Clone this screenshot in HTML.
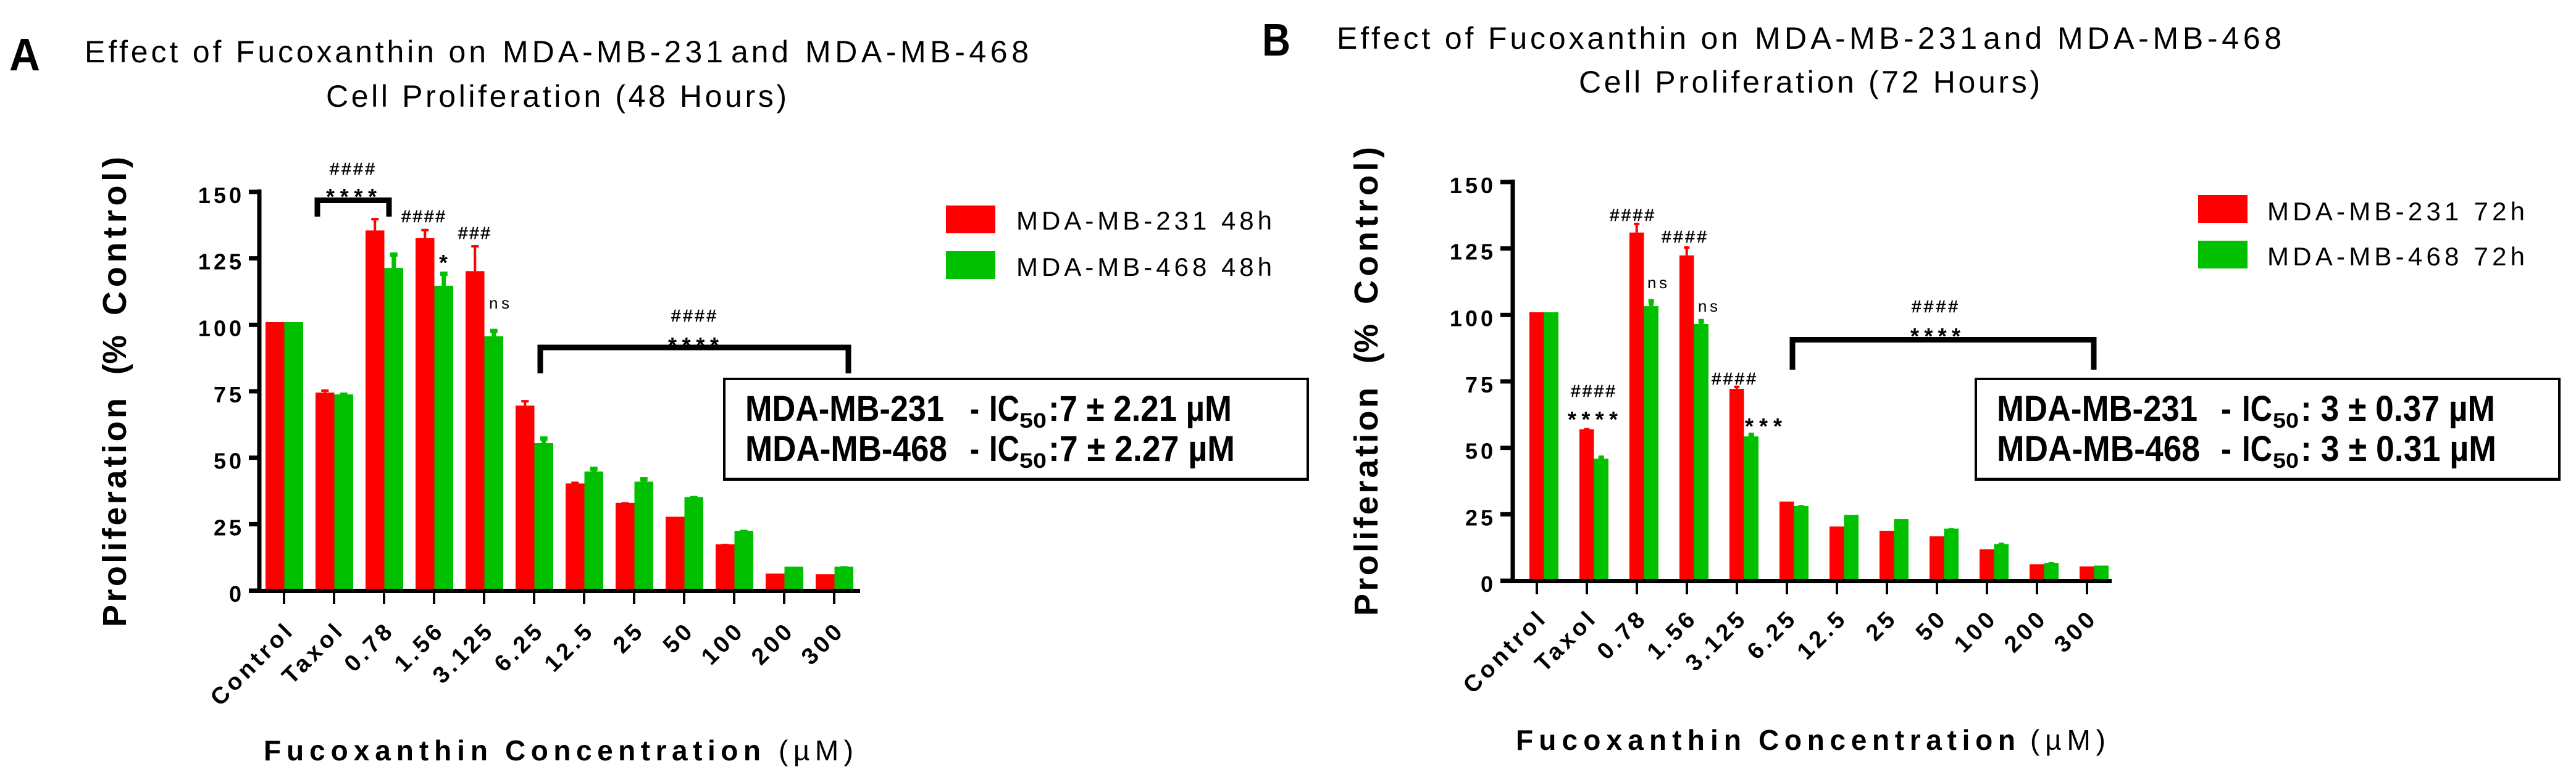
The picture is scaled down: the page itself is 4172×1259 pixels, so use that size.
<!DOCTYPE html>
<html>
<head>
<meta charset="utf-8">
<style>
html,body{margin:0;padding:0;background:#fff;width:4172px;height:1259px;overflow:hidden}
svg{display:block}
text{font-family:"Liberation Sans",sans-serif;fill:#000}
.b{font-weight:bold}
.ttl{font-size:50px}
.ylab{font-size:54px;font-weight:bold}
.leg{font-size:42px}
.box{font-size:58px;font-weight:bold}
.sub{font-size:34px;font-weight:bold}
.hash{font-size:28px;stroke:#000;stroke-width:.6px}
.star{font-size:36px;font-weight:bold}
.ns{font-size:26px}
</style>
</head>
<body>
<svg id="figure" xmlns="http://www.w3.org/2000/svg" width="4172" height="1259" viewBox="0 0 4172 1259">
<rect width="4172" height="1259" fill="#fff"/>

<g id="panel-a">
  <text class="b" x="15" y="114" font-size="74" textLength="50" lengthAdjust="spacingAndGlyphs">A</text>
  <text class="ttl" x="137" y="101" textLength="650">Effect of Fucoxanthin on</text>
  <text class="ttl" x="814" y="101" textLength="357">MDA-MB-231</text>
  <text class="ttl" x="1184" y="101" textLength="93">and</text>
  <text class="ttl" x="1304" y="101" textLength="362">MDA-MB-468</text>
  <text class="ttl" x="528" y="173" textLength="746">Cell Proliferation (48 Hours)</text>
  <text class="ylab" transform="translate(204,1016) rotate(-90)" textLength="371">Proliferation</text>
  <text class="ylab" transform="translate(204,607) rotate(-90)" textLength="64" lengthAdjust="spacingAndGlyphs">(%</text>
  <text class="ylab" transform="translate(204,511) rotate(-90)" textLength="257">Control)</text>
  <text class="b" x="427" y="1232" font-size="46" textLength="363">Fucoxanthin</text>
  <text class="b" x="818" y="1232" font-size="46" textLength="414">Concentration</text>
  <text x="1261" y="1232" font-size="46" textLength="121">(µM)</text>

  <rect x="1532" y="333" width="80" height="45" fill="#ff0000"/>
  <text class="leg" x="1646" y="372" textLength="414">MDA-MB-231 48h</text>
  <rect x="1532" y="407" width="80" height="45" fill="#00c000"/>
  <text class="leg" x="1646" y="447" textLength="414">MDA-MB-468 48h</text>

  <path d="M514 351V324.500H630V351" fill="none" stroke="#000" stroke-width="9"/>
  <text class="hash" x="534" y="283" textLength="73">####</text>
  <text class="star" x="528" y="331" textLength="82">****</text>
  <text class="hash" x="650" y="360" textLength="71">####</text>
  <text class="star" x="711" y="438">*</text>
  <text class="hash" x="742" y="387" textLength="52">###</text>
  <text class="ns" x="792" y="500" textLength="33">ns</text>
  <path d="M875 605V563H1374V605" fill="none" stroke="#000" stroke-width="9"/>
  <text class="hash" x="1087" y="521" textLength="73">####</text>
  <text class="star" x="1082" y="572" textLength="82">****</text>

  <g>
    <rect x="1173" y="614" width="945" height="163" fill="#fff" stroke="#000" stroke-width="4"/>
    <rect x="1171" y="774" width="949" height="5" fill="#000"/>
    <text class="box" x="1207" y="682" textLength="322" lengthAdjust="spacingAndGlyphs">MDA-MB-231</text>
    <text class="box" x="1571" y="682" textLength="15" lengthAdjust="spacingAndGlyphs">-</text>
    <text class="box" x="1602" y="682" textLength="49" lengthAdjust="spacingAndGlyphs">IC</text>
    <text class="sub" x="1651" y="693" textLength="44" lengthAdjust="spacingAndGlyphs">50</text>
    <text class="box" x="1698" y="682" textLength="297" lengthAdjust="spacingAndGlyphs">:7 ± 2.21 µM</text>
    <text class="box" x="1207" y="747" textLength="327" lengthAdjust="spacingAndGlyphs">MDA-MB-468</text>
    <text class="box" x="1571" y="747" textLength="15" lengthAdjust="spacingAndGlyphs">-</text>
    <text class="box" x="1602" y="747" textLength="49" lengthAdjust="spacingAndGlyphs">IC</text>
    <text class="sub" x="1651" y="758" textLength="44" lengthAdjust="spacingAndGlyphs">50</text>
    <text class="box" x="1698" y="747" textLength="302" lengthAdjust="spacingAndGlyphs">:7 ± 2.27 µM</text>
  </g>
</g>

<g id="panel-b">
  <text class="b" x="2044" y="90" font-size="74" textLength="46" lengthAdjust="spacingAndGlyphs">B</text>
  <text class="ttl" x="2165" y="79" textLength="650">Effect of Fucoxanthin on</text>
  <text class="ttl" x="2842" y="79" textLength="360">MDA-MB-231</text>
  <text class="ttl" x="3212" y="79" textLength="95">and</text>
  <text class="ttl" x="3332" y="79" textLength="363">MDA-MB-468</text>
  <text class="ttl" x="2557" y="150" textLength="747">Cell Proliferation (72 Hours)</text>
  <text class="ylab" transform="translate(2231,998) rotate(-90)" textLength="370">Proliferation</text>
  <text class="ylab" transform="translate(2231,589) rotate(-90)" textLength="64" lengthAdjust="spacingAndGlyphs">(%</text>
  <text class="ylab" transform="translate(2231,493) rotate(-90)" textLength="255">Control)</text>
  <text class="b" x="2455" y="1215" font-size="46" textLength="365">Fucoxanthin</text>
  <text class="b" x="2848" y="1215" font-size="46" textLength="416">Concentration</text>
  <text x="3288" y="1215" font-size="46" textLength="122">(µM)</text>

  <rect x="3560" y="316" width="80" height="45" fill="#ff0000"/>
  <text class="leg" x="3672" y="357" textLength="417">MDA-MB-231 72h</text>
  <rect x="3560" y="390" width="80" height="45" fill="#00c000"/>
  <text class="leg" x="3672" y="430" textLength="417">MDA-MB-468 72h</text>

  <text class="hash" x="2607" y="358" textLength="72">####</text>
  <text class="hash" x="2691" y="393" textLength="73">####</text>
  <text class="ns" x="2668" y="467" textLength="32">ns</text>
  <text class="ns" x="2750" y="505" textLength="32">ns</text>
  <text class="hash" x="2772" y="623" textLength="72">####</text>
  <text class="hash" x="2544" y="643" textLength="72">####</text>
  <text class="star" x="2539" y="692" textLength="81">****</text>
  <text class="star" x="2826" y="703" textLength="60">***</text>
  <path d="M2903 599V550.500H3391V599" fill="none" stroke="#000" stroke-width="9"/>
  <text class="hash" x="3096" y="506" textLength="75">####</text>
  <text class="star" x="3094" y="557" textLength="81">****</text>

  <g>
    <rect x="3200" y="614" width="945" height="163" fill="#fff" stroke="#000" stroke-width="4"/>
    <rect x="3198" y="774" width="949" height="5" fill="#000"/>
    <text class="box" x="3234" y="682" textLength="325" lengthAdjust="spacingAndGlyphs">MDA-MB-231</text>
    <text class="box" x="3597" y="682" textLength="17" lengthAdjust="spacingAndGlyphs">-</text>
    <text class="box" x="3631" y="682" textLength="49" lengthAdjust="spacingAndGlyphs">IC</text>
    <text class="sub" x="3681" y="693" textLength="42" lengthAdjust="spacingAndGlyphs">50</text>
    <text class="box" x="3726" y="682" textLength="315" lengthAdjust="spacingAndGlyphs">: 3 ± 0.37 µM</text>
    <text class="box" x="3234" y="747" textLength="329" lengthAdjust="spacingAndGlyphs">MDA-MB-468</text>
    <text class="box" x="3597" y="747" textLength="17" lengthAdjust="spacingAndGlyphs">-</text>
    <text class="box" x="3631" y="747" textLength="49" lengthAdjust="spacingAndGlyphs">IC</text>
    <text class="sub" x="3681" y="758" textLength="42" lengthAdjust="spacingAndGlyphs">50</text>
    <text class="box" x="3726" y="747" textLength="317" lengthAdjust="spacingAndGlyphs">: 3 ± 0.31 µM</text>
  </g>
</g>
</svg>

<script>
const categories = ['Control','Taxol','0.78','1.56','3.125','6.25','12.5','25','50','100','200','300'];
const yTickValues = [0,25,50,75,100,125,150];

const mda231at48h = [101,74.5,135.5,132.6,120.2,69.6,40.3,33,27.8,17.4,6.4,6.2];
const mda468at48h = [101,73.8,121.4,114.7,95.7,55.5,44.8,41,35.2,22.5,9,9];
const err231at48h = [0,1.2,4.7,3.5,9.8,2.1,0.7,0.3,0,0.2,0,0];
const err468at48h = [0,0.7,5.8,5.3,2.8,2.5,1.8,1.7,0.4,0.4,0,0.2];

const mda231at72h = [101,57,131,122.4,72.2,29.8,20.4,18.8,16.7,11.8,6.2,5.4];
const mda468at72h = [101,45.9,103.3,96.6,54.3,28.1,24.8,23.2,19.6,13.8,6.7,5.7];
const err231at72h = [0,0.5,3.7,3.4,1.2,0,0,0,0,0,0,0];
const err468at72h = [0,1.2,2.7,1.9,1.4,0.4,0,0,0.2,0.5,0.3,0];

const NS = 'http://www.w3.org/2000/svg';

function addRect(parent, x, y, w, h, fill) {
  const el = document.createElementNS(NS, 'rect');
  el.setAttribute('x', x);
  el.setAttribute('y', y);
  el.setAttribute('width', w);
  el.setAttribute('height', h);
  el.setAttribute('fill', fill);
  parent.appendChild(el);
  return el;
}

function addLabel(parent, str, x, y, size) {
  const el = document.createElementNS(NS, 'text');
  el.setAttribute('x', x);
  el.setAttribute('y', y);
  el.setAttribute('font-size', size);
  el.setAttribute('font-weight', 'bold');
  el.setAttribute('text-anchor', 'end');
  el.textContent = str;
  parent.appendChild(el);
  return el;
}

function drawPanel(panel, layout, seriesRed, seriesGreen, errRed, errGreen) {
  const xScale = i => layout.firstTickX + layout.tickStep * i;
  const yScale = v => layout.zeroY - layout.pxPerUnit * v;

  const plot = document.createElementNS(NS, 'g');
  
  
  panel.insertBefore(plot, panel.firstChild);

  categories.forEach((cat, i) => {
    const redX = xScale(i) + layout.redOffset;
    const greenX = redX + layout.barW;
    const slug = cat.replace('.', '-').toLowerCase();

    const redBar = addRect(plot, redX, yScale(seriesRed[i]), layout.barW, layout.pxPerUnit * seriesRed[i], '#ff0000');
    
    

    const greenBar = addRect(plot, greenX, yScale(seriesGreen[i]), layout.barW, layout.pxPerUnit * seriesGreen[i], '#00c000');
    
    

    if (errRed[i] > 0) {
      const cx = redX + layout.barW / 2;
      const top = yScale(seriesRed[i] + errRed[i]);
      const stem = addRect(plot, cx - 2, top, 4, yScale(seriesRed[i]) - top, '#ff0000');
      
      
      const cap = addRect(plot, cx - layout.capW / 2, top, layout.capW, 4, '#ff0000');
      
      
    }
    if (errGreen[i] > 0) {
      const cx = greenX + layout.barW / 2;
      const top = yScale(seriesGreen[i] + errGreen[i]);
      const stem = addRect(plot, cx - 3.5, top, 7, yScale(seriesGreen[i]) - top, '#00c000');
      
      
      const cap = addRect(plot, cx - layout.capW / 2, top, layout.capW, 7, '#00c000');
      
      
    }

    const tick = addRect(plot, xScale(i) - 2, layout.zeroY + 3, 4, 19, '#000');
    
    

    const lx = xScale(i) + 19;
    const ly = layout.zeroY + layout.labelDrop;
    const xLabel = addLabel(plot, cat, lx, ly, 38);
    xLabel.setAttribute('transform', 'rotate(-45 ' + lx + ' ' + ly + ')');
    xLabel.setAttribute('style', 'letter-spacing:5.5px');
    
    
  });

  const yAxis = addRect(plot, layout.axisX - 3.5, yScale(150) - 4, 7, layout.pxPerUnit * 150 + 8, '#000');
  
  

  const xAxis = addRect(plot, layout.axisLeft, layout.zeroY - 3, layout.axisRight - layout.axisLeft, 7, '#000');
  
  

  yTickValues.forEach(v => {
    const tick = addRect(plot, layout.axisLeft, yScale(v) - 3.5, layout.axisX - layout.axisLeft, 7, '#000');
    
    

    const label = addLabel(plot, String(v), layout.axisLeft - 7, yScale(v) + 18, 36);
    label.setAttribute('style', 'letter-spacing:5px');
    
    
  });
}

drawPanel(document.getElementById('panel-a'),
  {id:'a', firstTickX:460, tickStep:81, redOffset:-30, barW:30.5, zeroY:957, pxPerUnit:4.307, axisX:420, axisLeft:403, axisRight:1393, capW:12, labelDrop:66},
  mda231at48h, mda468at48h, err231at48h, err468at48h);

drawPanel(document.getElementById('panel-b'),
  {id:'b', firstTickX:2489, tickStep:81, redOffset:-12, barW:23.5, zeroY:941, pxPerUnit:4.307, axisX:2450, axisLeft:2430, axisRight:3420, capW:9, labelDrop:62},
  mda231at72h, mda468at72h, err231at72h, err468at72h);
</script>
</body>
</html>
